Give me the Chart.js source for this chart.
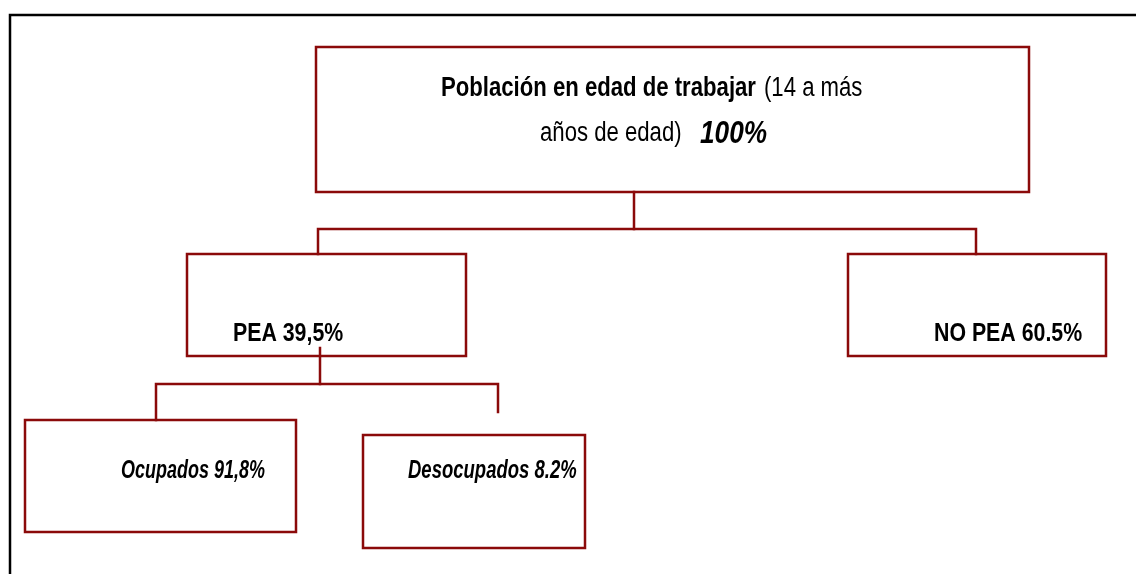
<!DOCTYPE html>
<html>
<head>
<meta charset="utf-8">
<script src="https://cdn.jsdelivr.net/npm/chart.js@4"></script>
<style>
  body { margin: 0; background: #fff; }
  #wrap { width: 1136px; height: 574px; }
</style>
</head>
<body>
<div id="wrap"><canvas id="tree-chart" width="1136" height="574"></canvas></div>
<script>
// tree nodes and their shares
var nodeNames = ["Población en edad de trabajar", "PEA", "NO PEA", "Ocupados", "Desocupados"]
var nodeShares = ["100%", "39,5%", "60.5%", "91,8%", "8.2%"]
var nodeNote = "(14 a más"
var nodeNote2 = "años de edad)"

// layout in page units (x 0..1136, y 0..574 from the top)
var boxX = [[316, 1029], [187, 466], [848, 1106], [25, 296], [363, 585]]
var boxY = [[47, 192], [254, 356], [254, 356], [420, 532], [435, 548]]
var links = [
  [[634, 192], [634, 229]],
  [[318, 254], [318, 229], [976, 229], [976, 254]],
  [[320, 348], [320, 384]],
  [[156, 420], [156, 384], [498, 384], [498, 412]]
]
var frame = [[1136, 15], [10, 15], [10, 574]]

var lineColor = "#8b0a0a"
var family = "'Liberation Sans', Arial, sans-serif"

function boxPoints(i){
  var x = boxX[i], y = boxY[i]
  return [{x: x[0], y: y[0]}, {x: x[1], y: y[0]}, {x: x[1], y: y[1]}, {x: x[0], y: y[1]}, {x: x[0], y: y[0]}]
}

function toPoints(arr){
  return arr.map(function(p){ return {x: p[0], y: p[1]} })
}

var datasets = []
datasets.push({data: toPoints(frame), borderColor: "#000", borderWidth: 2.5})
for (var i = 0; i < nodeNames.length; i++){
  datasets.push({data: boxPoints(i), borderColor: lineColor, borderWidth: 2.5})
}
for (var l of links){
  datasets.push({data: toPoints(l), borderColor: lineColor, borderWidth: 2.5})
}
datasets.forEach(function(d){
  d.showLine = true
  d.pointRadius = 0
  d.fill = false
  d.tension = 0
  d.borderCapStyle = "square"
  d.borderJoinStyle = "miter"
})

// text runs: [text, x, baseline, font, horizontal squeeze]
var texts = [
  [nodeNames[0], 441, 96, "bold 27px", 0.82],
  [nodeNote, 764, 96, "27px", 0.82],
  [nodeNote2, 540, 141, "27px", 0.82],
  [nodeShares[0], 700, 143, "italic bold 32px", 0.82],
  [nodeNames[1] + " " + nodeShares[1], 233, 341, "bold 26px", 0.82],
  [nodeNames[2] + " " + nodeShares[2], 934, 341, "bold 26px", 0.82],
  [nodeNames[3] + " " + nodeShares[3], 121, 478, "italic bold 25px", 0.72],
  [nodeNames[4] + " " + nodeShares[4], 408, 478, "italic bold 25px", 0.74]
]

var textPlugin = {
  id: "treeText",
  afterDatasetsDraw: function(chart){
    var ctx = chart.ctx
    var xs = chart.scales.x, ys = chart.scales.y
    for (var t of texts){
      ctx.save()
      ctx.translate(xs.getPixelForValue(t[1]), ys.getPixelForValue(t[2]))
      ctx.scale(t[4], 1)
      ctx.font = t[3] + " " + family
      ctx.fillStyle = "#000"
      ctx.textAlign = "left"
      ctx.textBaseline = "alphabetic"
      ctx.fillText(t[0], 0, 0)
      ctx.restore()
    }
  }
}

var myChart = new Chart(document.getElementById("tree-chart"), {
  type: "scatter",
  data: { datasets: datasets },
  options: {
    responsive: false,
    animation: false,
    layout: { padding: 0 },
    plugins: { legend: { display: false }, tooltip: { enabled: false } },
    scales: {
      x: { type: "linear", min: 0, max: 1136, display: false },
      y: { type: "linear", min: 0, max: 574, reverse: true, display: false }
    }
  },
  plugins: [textPlugin]
})
</script>
</body>
</html>
